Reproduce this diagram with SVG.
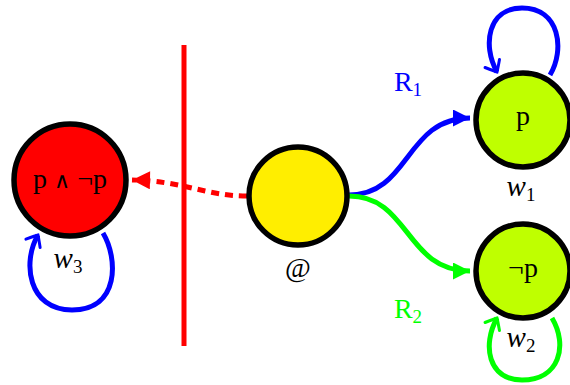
<svg xmlns="http://www.w3.org/2000/svg" width="570" height="385" viewBox="0 0 570 385">
<style>
.node{stroke:#000;stroke-width:5.5}
.t{font-family:"Liberation Serif","DejaVu Serif",serif;font-size:28px;text-anchor:middle}
.w{font-family:"Liberation Serif","DejaVu Serif",serif;font-size:29px;font-style:italic;text-anchor:middle}
.sub{font-size:19px;font-style:normal}
.e{fill:none;stroke-width:5}
</style>
<defs>
<marker id="triR" viewBox="0 0 10 10" refX="10" refY="5" markerWidth="4.6" markerHeight="3.6" orient="auto" markerUnits="strokeWidth"><path d="M0,0 L10,5 L0,10 Z" fill="#f00"/></marker>
<marker id="triB" viewBox="0 0 10 10" refX="10" refY="5" markerWidth="4.2" markerHeight="3.4" orient="auto" markerUnits="strokeWidth"><path d="M0,0 L10,5 L0,10 Z" fill="#00f"/></marker>
<marker id="triG" viewBox="0 0 10 10" refX="10" refY="5" markerWidth="4.2" markerHeight="3.4" orient="auto" markerUnits="strokeWidth"><path d="M0,0 L10,5 L0,10 Z" fill="#0f0"/></marker>
<marker id="hookB" viewBox="-8 -7 10 14" refX="0" refY="0" markerWidth="3" markerHeight="4.2" orient="auto" markerUnits="strokeWidth"><path d="M-6.5,-5.5 Q-1,-1 0,0 Q-1,1 -6.5,5.5" fill="none" stroke="#00f" stroke-width="2" stroke-linecap="round"/></marker>
<marker id="hookG" viewBox="-8 -7 10 14" refX="0" refY="0" markerWidth="3" markerHeight="4.2" orient="auto" markerUnits="strokeWidth"><path d="M-6.5,-5.5 Q-1,-1 0,0 Q-1,1 -6.5,5.5" fill="none" stroke="#0f0" stroke-width="2" stroke-linecap="round"/></marker>
</defs>
<line x1="184" y1="45" x2="184" y2="346" stroke="#f00" stroke-width="5"/>
<g id="connectors">
<path class="e" d="M247,196 C205,196 185,181 132,180" stroke="#f00" stroke-dasharray="8,6" marker-end="url(#triR)"/>
<path class="e" d="M349,195 C410,195 405,118 470,118" stroke="#00f" marker-end="url(#triB)"/>
<path class="e" d="M349,196 C410,196 405,271 470,271" stroke="#0f0" marker-end="url(#triG)"/>
<path class="e" d="M550,75 C565,50 560,8 522,8 C488,8 482,45 497,72" stroke="#00f" marker-end="url(#hookB)"/>
<path class="e" d="M552,318 C568,345 560,380 522,380 C488,380 482,345 497,318" stroke="#0f0" marker-end="url(#hookG)"/>
<path class="e" d="M103,233 C118,258 120,310 72,310 C28,310 22,262 38,235" stroke="#00f" marker-end="url(#hookB)"/>
</g>
<text class="t" x="408" y="91" fill="#00f">R<tspan class="sub" dy="5">1</tspan></text>
<text class="t" x="408" y="318" fill="#0f0">R<tspan class="sub" dy="5">2</tspan></text>
<g id="w3">
<circle class="node" cx="70" cy="180" r="56" fill="#f00"/>
<text class="t" x="70" y="188">p <tspan font-size="22">∧</tspan> ¬p</text>
<text class="w" x="68" y="268">w<tspan class="sub" dy="5">3</tspan></text>
</g>
<g id="at">
<circle class="node" cx="298" cy="196" r="49" fill="#ffee00"/>
<text class="t" x="298" y="277" font-size="24">@</text>
</g>
<g id="w1">
<circle class="node" cx="523" cy="120" r="47" fill="#bfff00"/>
<text class="t" x="523" y="125">p</text>
<text class="w" x="521" y="196">w<tspan class="sub" dy="5">1</tspan></text>
</g>
<g id="w2">
<circle class="node" cx="523" cy="271" r="47" fill="#bfff00"/>
<text class="t" x="523" y="277">¬p</text>
<text class="w" x="521" y="347">w<tspan class="sub" dy="5">2</tspan></text>
</g>
</svg>
